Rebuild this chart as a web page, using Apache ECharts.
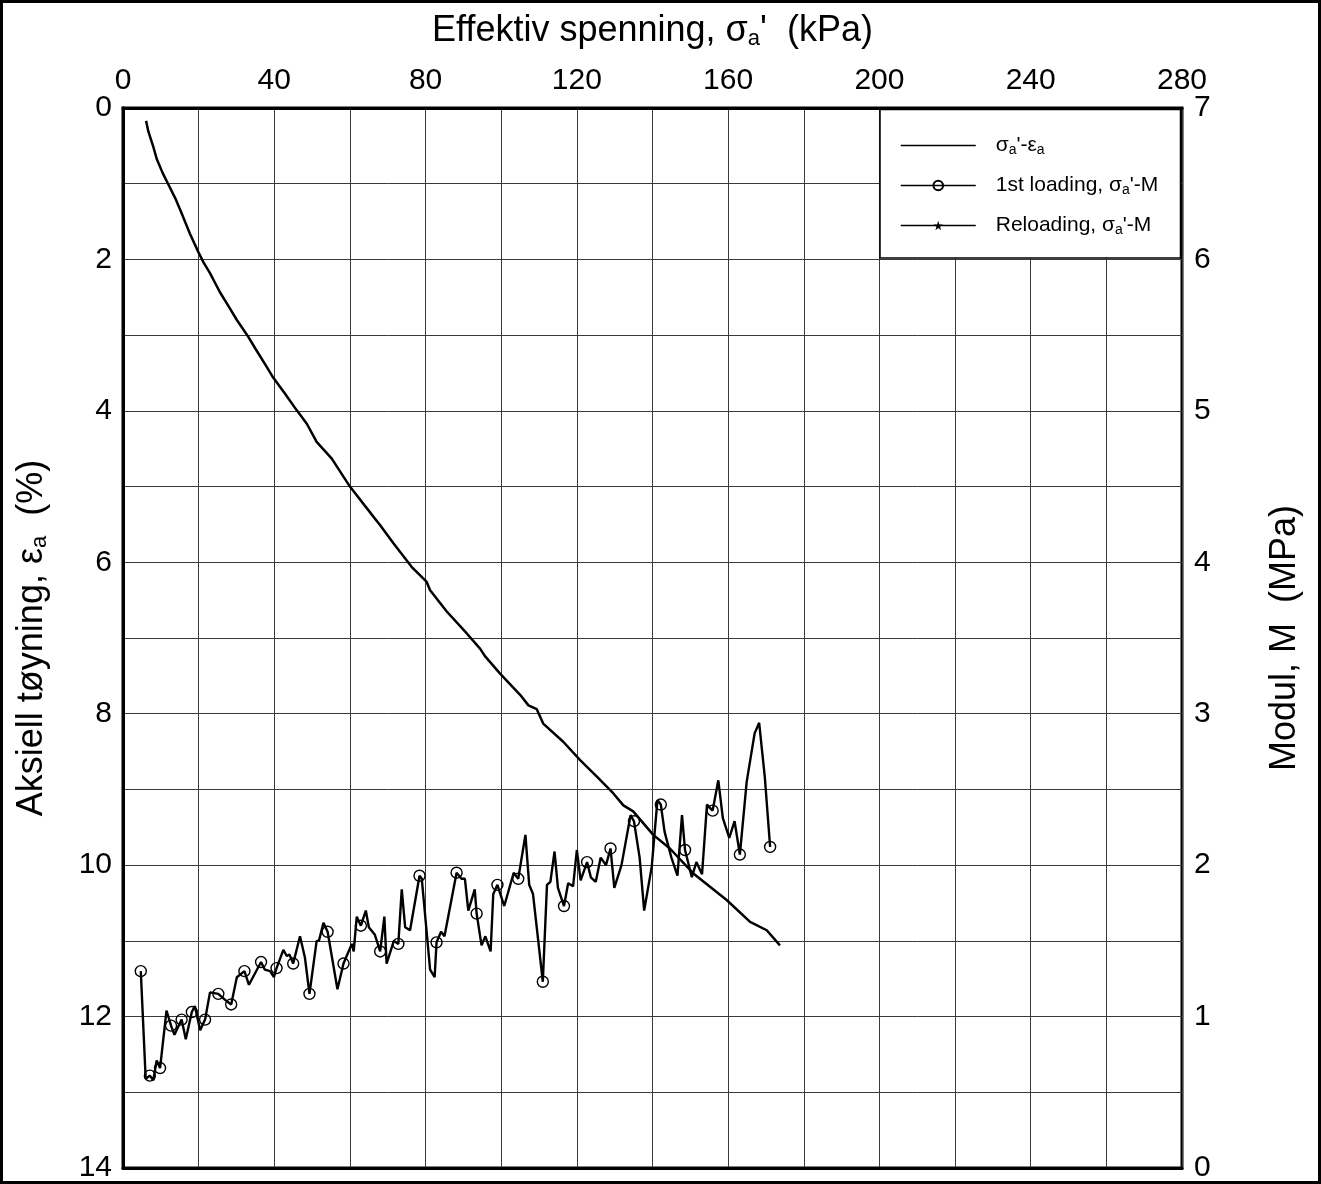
<!DOCTYPE html>
<html>
<head>
<meta charset="utf-8">
<title>Effektiv spenning</title>
<script src="https://cdn.jsdelivr.net/npm/echarts@6.0.0/dist/echarts.min.js"></script>
<style>
  html, body { margin: 0; padding: 0; background: #fff; }
  #chart { width: 1321px; height: 1184px; }
</style>
</head>
<body>
<div id="chart"></div>
<script>
// axis ranges (kPa, %, MPa)
const stressTicks = [0, 40, 80, 120, 160, 200, 240, 280]
const strainTicks = [0, 2, 4, 6, 8, 10, 12, 14]
const modulusTicks = [0, 1, 2, 3, 4, 5, 6, 7]

// sigma_a' - eps_a
const strainStress = [6.1, 6.7, 8.0, 8.9, 10.5, 12.0, 13.8, 15.5, 17.7, 19.9, 21.4, 23.0, 25.6, 28.3, 30.1,
  33.1, 34.9, 38.0, 39.7, 42.8, 45.9, 48.6, 51.2, 55.2, 60.0, 66.4, 68.0, 71.5, 76.3, 80.3,
  81.2, 85.6, 90.9, 94.4, 95.7, 99.7, 105.0, 107.2, 109.4, 111.1, 116.4, 120.8, 125.3, 129.6, 132.3,
  134.9, 140.2, 144.6, 150.8, 159.6, 165.8, 170.2, 173.7]
const strainPct = [0.17, 0.31, 0.51, 0.67, 0.86, 1.01, 1.19, 1.39, 1.66, 1.90, 2.05, 2.18, 2.43, 2.65, 2.80,
  3.02, 3.17, 3.42, 3.56, 3.77, 3.99, 4.17, 4.41, 4.63, 5.00, 5.41, 5.51, 5.75, 6.06, 6.26,
  6.37, 6.65, 6.94, 7.14, 7.24, 7.47, 7.75, 7.89, 7.94, 8.13, 8.37, 8.61, 8.83, 9.05, 9.21,
  9.29, 9.60, 9.78, 10.11, 10.46, 10.75, 10.86, 11.06]

// 1st loading, sigma_a' - M
const loadStress = [4.7, 6.0, 7.1, 8.0, 8.9, 9.8, 11.5, 12.7, 13.6, 15.5, 16.6, 18.2, 19.0, 20.4, 21.7,
  23.0, 25.2, 27.0, 28.6, 30.1, 32.1, 33.3, 36.5, 37.5, 38.9, 39.9, 40.6, 42.4, 43.3, 44.0,
  45.0, 46.8, 48.1, 49.3, 51.2, 51.8, 53.0, 54.1, 56.7, 58.3, 60.5, 61.0, 61.8, 62.9, 64.2,
  65.0, 66.6, 68.0, 69.1, 69.7, 71.6, 72.8, 73.7, 74.6, 75.9, 78.4, 79.0, 81.2, 82.4, 82.9,
  84.1, 85.0, 88.2, 89.5, 90.4, 91.3, 93.0, 93.5, 94.8, 95.8, 97.2, 97.9, 99.0, 100.8, 103.3,
  104.5, 106.4, 107.4, 108.4, 111.0, 112.1, 113.0, 114.1, 115.0, 116.6, 117.7, 119.0, 120.0, 121.0, 122.7,
  123.7, 125.0, 126.3, 127.7, 128.9, 129.9, 131.8, 134.2, 135.1, 136.6, 137.8, 139.8, 141.3, 142.2, 143.2,
  145.0, 146.6, 147.8, 148.6, 150.4, 151.6, 153.1, 154.4, 155.9, 157.4, 158.6, 160.3, 161.7, 163.1, 164.9,
  167.0, 168.2, 169.7, 171.1]
const loadModulus = [1.30, 0.59, 0.61, 0.58, 0.71, 0.66, 1.04, 0.94, 0.88, 0.98, 0.85, 1.03, 1.07, 0.91, 0.98,
  1.16, 1.15, 1.11, 1.08, 1.26, 1.30, 1.21, 1.36, 1.31, 1.30, 1.26, 1.32, 1.44, 1.40, 1.41,
  1.35, 1.53, 1.39, 1.15, 1.50, 1.50, 1.62, 1.56, 1.18, 1.35, 1.48, 1.43, 1.66, 1.60, 1.70,
  1.59, 1.54, 1.43, 1.66, 1.35, 1.50, 1.48, 1.84, 1.59, 1.57, 1.93, 1.91, 1.31, 1.26, 1.49,
  1.56, 1.53, 1.95, 1.91, 1.91, 1.70, 1.84, 1.68, 1.47, 1.53, 1.43, 1.81, 1.87, 1.73, 1.95,
  1.91, 2.20, 1.87, 1.81, 1.23, 1.87, 1.89, 2.09, 1.85, 1.73, 1.88, 1.86, 2.10, 1.90, 2.02,
  1.92, 1.89, 2.05, 2.00, 2.11, 1.85, 2.00, 2.33, 2.29, 2.05, 1.70, 1.99, 2.43, 2.40, 2.22,
  2.05, 1.93, 2.33, 2.10, 1.92, 2.02, 1.94, 2.40, 2.36, 2.56, 2.31, 2.18, 2.29, 2.07, 2.55,
  2.87, 2.94, 2.58, 2.12]
// points of the loading curve that carry a circle
const loadMarked = [0, 2, 5, 7, 9, 11, 14, 16, 18, 20, 22, 26, 30, 33, 37, 39, 43, 47, 51, 55,
  59, 62, 67, 72, 75, 79, 84, 89, 94, 98, 103, 108, 113, 118, 123]

// Reloading, sigma_a' - M (none in this test)
const reloadStress = []
const reloadModulus = []

const FONT = '"Liberation Sans", Arial, sans-serif'
const STAR = 'path://M50,0L61,35L98,35L68,57L79,91L50,70L21,91L32,57L2,35L39,35Z'

const legendLabels = {
  strain: '{t|σ}{s|a}{t|\'-ε}{s|a}',
  load: '{t|1st loading, σ}{s|a}{t|\'-M}',
  reload: '{t|Reloading, σ}{s|a}{t|\'-M}'
}

const nameRich = {
  t: { fontSize: 36, fontFamily: FONT, color: '#000' },
  s: { fontSize: 22, fontFamily: FONT, color: '#000', padding: [16, 0, 0, 0] }
}

const chart = echarts.init(document.getElementById('chart'))
const marked = new Set(loadMarked)

chart.setOption({
  animation: false,
  backgroundColor: '#fff',
  grid: {
    left: 123, top: 108, right: 139, bottom: 16,
    outerBoundsMode: 'none',
    show: true, borderColor: '#000', borderWidth: 3
  },
  legend: {
    orient: 'vertical',
    left: 880, top: 108,
    padding: [27, 20, 25, 20],
    itemWidth: 75, itemHeight: 12, itemGap: 18,
    selectedMode: false,
    data: [{ name: 'strain', itemStyle: { opacity: 0 } }, 'load', 'reload'],
    formatter: n => legendLabels[n],
    lineStyle: { width: 1.5, color: '#000' },
    textStyle: {
      fontSize: 21, fontFamily: FONT, color: '#000', padding: [0, 0, 0, 15],
      rich: {
        t: { fontSize: 21, fontFamily: FONT, color: '#000' },
        s: { fontSize: 14, fontFamily: FONT, color: '#000', padding: [9, 0, 0, 0] }
      }
    }
  },
  graphic: [
    {
      type: 'rect', z: 3,
      shape: { x: 880, y: 109.5, width: 300.5, height: 148.5 },
      style: { fill: '#fff', stroke: '#000', lineWidth: 1.5 }
    },
    {
      type: 'rect', z: 10,
      shape: { x: 1.5, y: 1.5, width: 1318, height: 1181 },
      style: { fill: 'none', stroke: '#000', lineWidth: 3 }
    }
  ],
  xAxis: [
    {
      type: 'value', position: 'top',
      min: stressTicks[0], max: stressTicks[stressTicks.length - 1], interval: stressTicks[1] - stressTicks[0],
      name: '{t|Effektiv spenning, σ}{s|a}{t|\'  (kPa)}',
      nameLocation: 'middle', nameGap: 58,
      nameTextStyle: { rich: nameRich },
      axisLine: { show: true, lineStyle: { color: '#000', width: 3 } },
      axisTick: { show: false },
      axisLabel: { fontSize: 30, fontFamily: FONT, color: '#000', margin: 12 },
      splitLine: { show: true, lineStyle: { color: '#3a3a3a', width: 1 } },
      minorTick: { show: false, splitNumber: 2 },
      minorSplitLine: { show: true, lineStyle: { color: '#3a3a3a', width: 1 } }
    },
    {
      type: 'value', position: 'bottom', min: 0, max: 280,
      axisLine: { show: true, lineStyle: { color: '#000', width: 3 } },
      axisTick: { show: false }, axisLabel: { show: false }, splitLine: { show: false }
    }
  ],
  yAxis: [
    {
      type: 'value', position: 'left', inverse: true,
      min: strainTicks[0], max: strainTicks[strainTicks.length - 1], interval: strainTicks[1] - strainTicks[0],
      name: '{t|Aksiell tøyning, ε}{s|a}{t|  (%)}',
      nameLocation: 'middle', nameGap: 72, nameRotate: 90,
      nameTextStyle: { rich: nameRich },
      axisLine: { show: true, lineStyle: { color: '#000', width: 3 } },
      axisTick: { show: false },
      axisLabel: { fontSize: 30, fontFamily: FONT, color: '#000', margin: 11 },
      splitLine: { show: true, lineStyle: { color: '#3a3a3a', width: 1 } },
      minorTick: { show: false, splitNumber: 2 },
      minorSplitLine: { show: true, lineStyle: { color: '#3a3a3a', width: 1 } }
    },
    {
      type: 'value', position: 'right',
      min: modulusTicks[0], max: modulusTicks[modulusTicks.length - 1], interval: modulusTicks[1] - modulusTicks[0],
      name: '{t|Modul, M  (MPa)}',
      nameLocation: 'middle', nameGap: 85, nameRotate: 90,
      nameTextStyle: { rich: nameRich },
      axisLine: { show: true, lineStyle: { color: '#000', width: 3 } },
      axisTick: { show: false },
      axisLabel: { fontSize: 30, fontFamily: FONT, color: '#000', margin: 12 },
      splitLine: { show: false }
    }
  ],
  series: [
    {
      name: 'strain', type: 'line', xAxisIndex: 0, yAxisIndex: 0,
      data: strainStress.map((s, i) => [s, strainPct[i]]),
      symbol: 'none',
      lineStyle: { color: '#000', width: 2.5 },
      itemStyle: { color: '#000' }
    },
    {
      name: 'load', type: 'line', xAxisIndex: 0, yAxisIndex: 1,
      data: loadStress.map((s, i) => ({
        value: [s, loadModulus[i]],
        symbol: marked.has(i) ? 'circle' : 'none'
      })),
      symbol: 'circle', symbolSize: 11,
      lineStyle: { color: '#000', width: 2.4 },
      itemStyle: { color: 'none', borderColor: '#000', borderWidth: 1.4 }
    },
    {
      name: 'reload', type: 'line', xAxisIndex: 0, yAxisIndex: 1,
      data: reloadStress.map((s, i) => [s, reloadModulus[i]]),
      symbol: STAR, symbolSize: 8,
      lineStyle: { color: '#000', width: 1.5 },
      itemStyle: { color: '#000' }
    }
  ]
})
</script>
</body>
</html>
